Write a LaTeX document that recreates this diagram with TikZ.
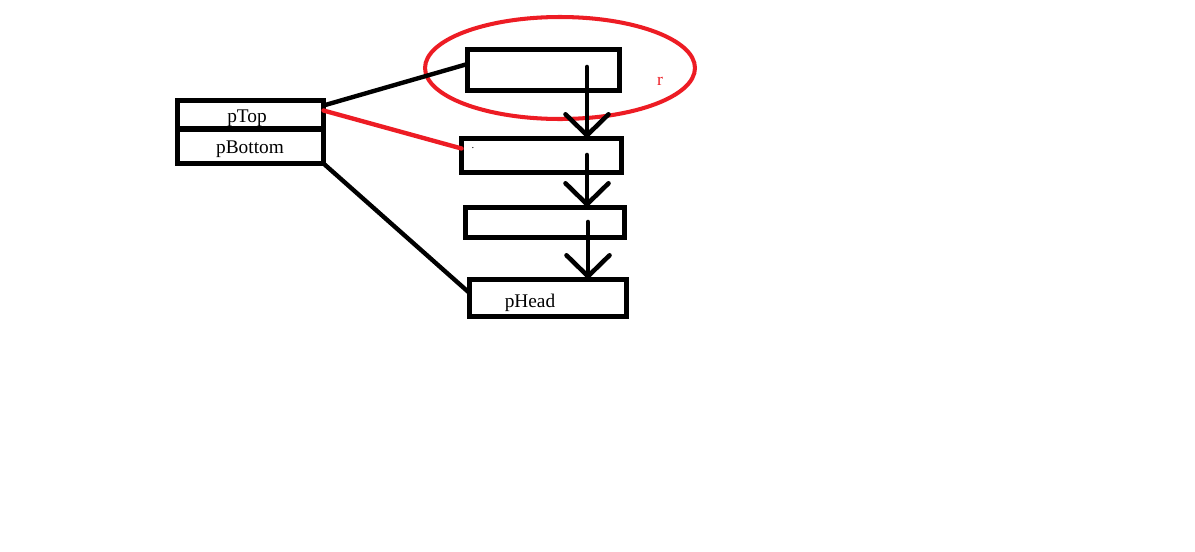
\documentclass[tikz,border=0pt]{standalone}
\usepackage{fontspec}
\setmainfont{Liberation Serif}
\usetikzlibrary{arrows.meta,calc,shapes.geometric}
\definecolor{pred}{HTML}{ED1C24}
\begin{document}
\begin{tikzpicture}[x=0.02cm,y=-0.02cm,
  box/.style={draw=black,line width=2.9pt,rectangle,inner sep=0pt,outer sep=0pt},
  lbl/.style={font=\fontsize{11}{13}\selectfont,text=black,inner sep=0pt},
  conn/.style={line width=2.5pt,line cap=round},
  parrow/.style={line width=2.6pt,line cap=round,-{Straight Barb[length=0.42cm,width=0.86cm,line cap=round]}}]
\useasboundingbox (0,0) rectangle (1195,551);
% left box
\node[box,minimum width=2.92cm,minimum height=0.57cm] (ptop) at (250.5,114.75) {};
\node[box,minimum width=2.92cm,minimum height=0.69cm] (pbot) at (250.5,146.25) {};
\node[lbl] (tptop) at (247,118) {pTop};
\node[lbl] (tpbot) at (250,149) {pBottom};
% list boxes
\node[box,minimum width=3.04cm,minimum height=0.82cm] (b1) at (543.5,70) {};
\node[box,minimum width=3.20cm,minimum height=0.68cm] (b2) at (541.5,155.5) {};
\node[box,minimum width=3.18cm,minimum height=0.60cm] (b3) at (545,222.5) {};
\node[box,minimum width=3.14cm,minimum height=0.74cm] (b4) at (548,298) {};
\node[lbl] (tphead) at (530,303) {pHead};
\node[lbl,font=\fontsize{6}{7}\selectfont] (dot) at (473,148) {.};
% red ellipse
\node[ellipse,draw=pred,line width=2.3pt,minimum width=5.4cm,minimum height=2.04cm,inner sep=0pt] (sel) at (560,68) {};
\node[lbl,text=pred,font=\fontsize{10}{12}\selectfont] (tr) at (660,81) {r};
% connectors
\draw[conn] ($(ptop.north east)+(0,5)$) -- ($(b1.west)+(0,-6)$);
\draw[conn,draw=pred] ($(ptop.north east)+(0,10)$) -- ($(b2.west)+(0,-7)$);
\draw[conn] (pbot.south east) -- ($(b4.west)+(0,-5)$);
% arrows
\coordinate (a1) at (587,67);
\coordinate (a2) at (587,155);
\coordinate (a3) at (588,222);
\draw[parrow] (a1) -- (a1 |- b2.north);
\draw[parrow] (a2) -- (a2 |- b3.north);
\draw[parrow] (a3) -- (a3 |- b4.north);
\end{tikzpicture}
\end{document}
